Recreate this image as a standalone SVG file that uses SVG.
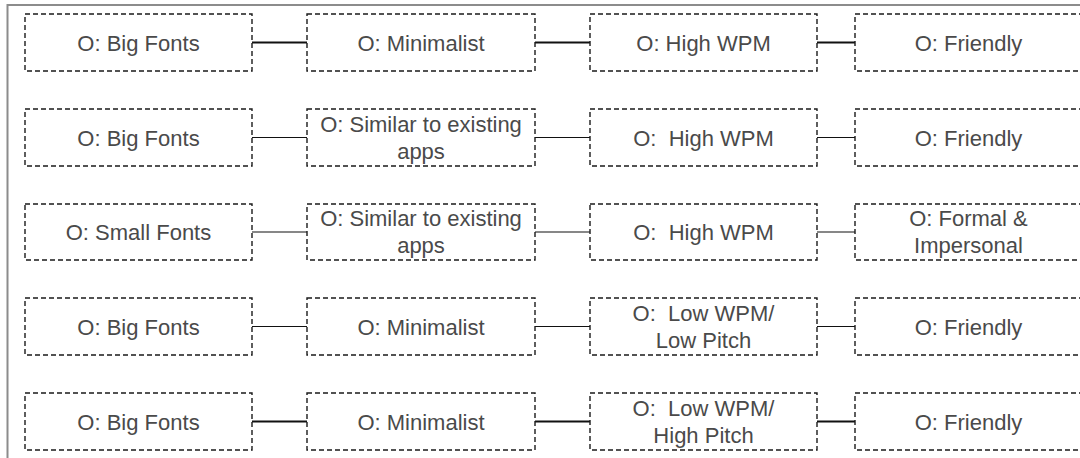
<svg xmlns="http://www.w3.org/2000/svg" width="1080" height="458" viewBox="0 0 1080 458">
  <style>
    .frame { fill: none; stroke: #8c8c8c; stroke-width: 2; }
    .box { fill: #ffffff; stroke: #1a1a1a; stroke-width: 1.4; stroke-dasharray: 5 3; }
    .lbl { font-family: "Liberation Sans", Arial, sans-serif; font-size: 22px; fill: #4a4a4a; text-anchor: middle; }
    .link { stroke: #111111; fill: none; }
    .thick { stroke-width: 2; }
    .thin { stroke-width: 1.2; }
  </style>

  <rect width="1080" height="458" fill="#ffffff"/>
  <!-- outer frame, running past the right and bottom edges -->
  <rect class="frame" x="7.5" y="5" width="1100" height="500"/>

  <!-- connectors between neighbouring options -->
  <g id="connectors">
    <line class="link thick" x1="252" y1="42.5" x2="307" y2="42.5"/>
    <line class="link thick" x1="535" y1="42.5" x2="590" y2="42.5"/>
    <line class="link thick" x1="817" y1="42.5" x2="855" y2="42.5"/>

    <line class="link thin" x1="252" y1="137.5" x2="307" y2="137.5"/>
    <line class="link thin" x1="535" y1="137.5" x2="590" y2="137.5"/>
    <line class="link thin" x1="817" y1="137.5" x2="855" y2="137.5"/>

    <line class="link thin" x1="252" y1="232" x2="307" y2="232"/>
    <line class="link thin" x1="535" y1="232" x2="590" y2="232"/>
    <line class="link thin" x1="817" y1="232" x2="855" y2="232"/>

    <line class="link thin" x1="252" y1="326.5" x2="307" y2="326.5"/>
    <line class="link thin" x1="535" y1="326.5" x2="590" y2="326.5"/>
    <line class="link thin" x1="817" y1="326.5" x2="855" y2="326.5"/>

    <line class="link thick" x1="252" y1="421.5" x2="307" y2="421.5"/>
    <line class="link thick" x1="535" y1="421.5" x2="590" y2="421.5"/>
    <line class="link thick" x1="817" y1="421.5" x2="855" y2="421.5"/>
  </g>

  <!-- row 1 -->
  <g id="r1c1"><rect class="box" x="25" y="14" width="227" height="57"/><text class="lbl" x="138.5" y="50.5">O: Big Fonts</text></g>
  <g id="r1c2"><rect class="box" x="307" y="14" width="228" height="57"/><text class="lbl" x="421" y="50.5">O: Minimalist</text></g>
  <g id="r1c3"><rect class="box" x="590" y="14" width="227" height="57"/><text class="lbl" x="703.5" y="50.5">O: High WPM</text></g>
  <g id="r1c4"><rect class="box" x="855" y="14" width="227" height="57"/><text class="lbl" x="968.5" y="50.5">O: Friendly</text></g>

  <!-- row 2 -->
  <g id="r2c1"><rect class="box" x="25" y="109" width="227" height="57"/><text class="lbl" x="138.5" y="145.5">O: Big Fonts</text></g>
  <g id="r2c2"><rect class="box" x="307" y="109" width="228" height="57"/><text class="lbl" x="421" y="131.5">O: Similar to existing</text><text class="lbl" x="421" y="158.5">apps</text></g>
  <g id="r2c3"><rect class="box" x="590" y="109" width="227" height="57"/><text class="lbl" x="703.5" y="145.5" xml:space="preserve">O:  High WPM</text></g>
  <g id="r2c4"><rect class="box" x="855" y="109" width="227" height="57"/><text class="lbl" x="968.5" y="145.5">O: Friendly</text></g>

  <!-- row 3 -->
  <g id="r3c1"><rect class="box" x="25" y="204" width="227" height="56"/><text class="lbl" x="138.5" y="240">O: Small Fonts</text></g>
  <g id="r3c2"><rect class="box" x="307" y="204" width="228" height="56"/><text class="lbl" x="421" y="226">O: Similar to existing</text><text class="lbl" x="421" y="253">apps</text></g>
  <g id="r3c3"><rect class="box" x="590" y="204" width="227" height="56"/><text class="lbl" x="703.5" y="240" xml:space="preserve">O:  High WPM</text></g>
  <g id="r3c4"><rect class="box" x="855" y="204" width="227" height="56"/><text class="lbl" x="968.5" y="226">O: Formal &amp;</text><text class="lbl" x="968.5" y="253">Impersonal</text></g>

  <!-- row 4 -->
  <g id="r4c1"><rect class="box" x="25" y="298" width="227" height="57"/><text class="lbl" x="138.5" y="334.5">O: Big Fonts</text></g>
  <g id="r4c2"><rect class="box" x="307" y="298" width="228" height="57"/><text class="lbl" x="421" y="334.5">O: Minimalist</text></g>
  <g id="r4c3"><rect class="box" x="590" y="298" width="227" height="57"/><text class="lbl" x="703.5" y="320.5" xml:space="preserve">O:  Low WPM/</text><text class="lbl" x="703.5" y="348">Low Pitch</text></g>
  <g id="r4c4"><rect class="box" x="855" y="298" width="227" height="57"/><text class="lbl" x="968.5" y="334.5">O: Friendly</text></g>

  <!-- row 5 -->
  <g id="r5c1"><rect class="box" x="25" y="393" width="227" height="57"/><text class="lbl" x="138.5" y="429.5">O: Big Fonts</text></g>
  <g id="r5c2"><rect class="box" x="307" y="393" width="228" height="57"/><text class="lbl" x="421" y="429.5">O: Minimalist</text></g>
  <g id="r5c3"><rect class="box" x="590" y="393" width="227" height="57"/><text class="lbl" x="703.5" y="415.5" xml:space="preserve">O:  Low WPM/</text><text class="lbl" x="703.5" y="443">High Pitch</text></g>
  <g id="r5c4"><rect class="box" x="855" y="393" width="227" height="57"/><text class="lbl" x="968.5" y="429.5">O: Friendly</text></g>
</svg>
